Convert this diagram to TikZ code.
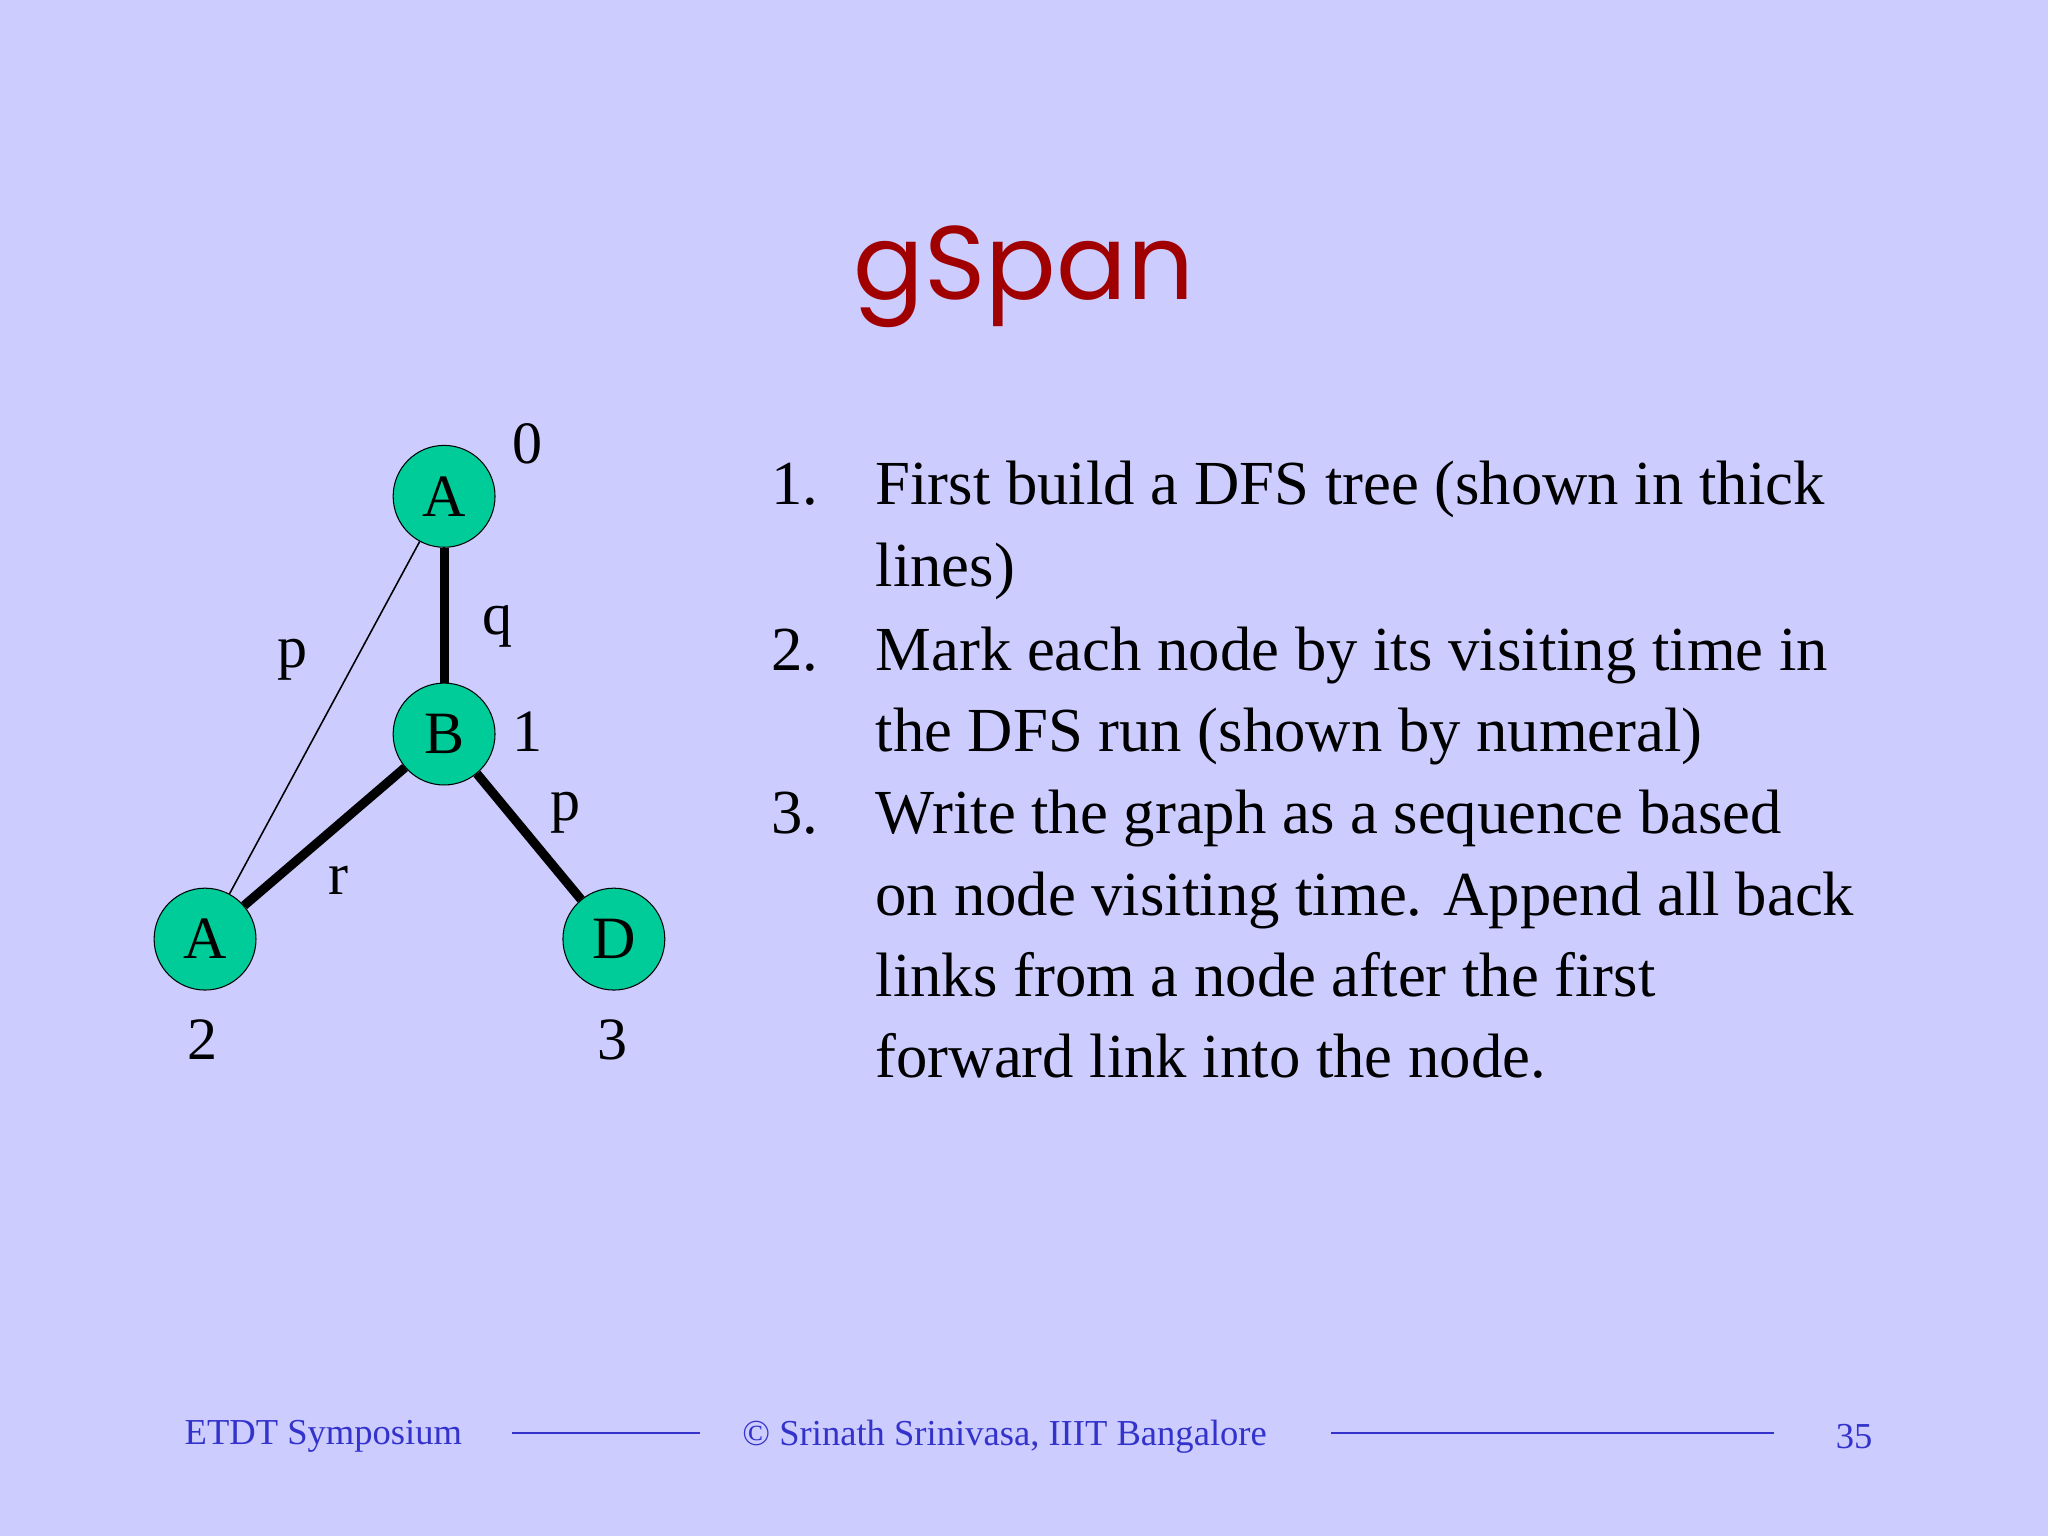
\documentclass[tikz,border=0pt]{standalone}
\usepackage{fontspec}
\setmainfont{Liberation Serif}
\newfontfamily\titlefont{Poppins}
\definecolor{bg}{RGB}{204,204,255}
\definecolor{nodegreen}{RGB}{0,204,153}
\definecolor{titlered}{RGB}{160,0,0}
\definecolor{footblue}{RGB}{51,51,204}
\tikzset{
  gnode/.style={circle,draw=black,fill=nodegreen,minimum size=39pt,inner sep=0pt,font=\fontsize{23}{23}\selectfont},
  lbl/.style={font=\fontsize{23}{23}\selectfont,inner sep=0pt},
  item/.style={anchor=base west,font=\fontsize{24}{24}\selectfont,inner sep=0pt},
  foot/.style={font=\fontsize{14}{14}\selectfont,text=footblue,inner sep=0pt},
  tree/.style={line width=3.5pt},
}
\begin{document}
\begin{tikzpicture}[x=0.5pt,y=-0.5pt]
\fill[bg] (0,0) rectangle (1568,1176);
\useasboundingbox (0,0) rectangle (1568,1176);
\node[text=titlered,font=\titlefont\fontsize{40}{40}\selectfont] (title) at (784,212) {gSpan};
\node[gnode] (a0) at (340,380) {A};
\node[gnode] (b) at (340,562) {B};
\node[gnode] (a2) at (157,719) {A};
\node[gnode] (d) at (470,719) {D};
\draw[tree] (a0) -- (b);
\draw[tree] (b) -- (a2);
\draw[tree] (b) -- (d);
\draw[line width=0.6pt] (a0) -- (a2);
\node[lbl] (n0) at (404,340) {0};
\node[lbl] (n1) at (404,560) {1};
\node[lbl] (n2) at (155,796) {2};
\node[lbl] (n3) at (469,796) {3};
\node[lbl] (lq) at (381,480) {q};
\node[lbl] (lp1) at (224,505) {p};
\node[lbl] (lp2) at (433,622) {p};
\node[lbl] (lr) at (259,674) {r};
\node[item] (i1) at (590,386) {1.};
\node[item] (i2) at (590,513) {2.};
\node[item] (i3) at (590,638) {3.};
\node[item] (t1) at (670,386) {First build a DFS tree (shown in thick};
\node[item] (t2) at (670,449) {lines)};
\node[item] (t3) at (670,513) {Mark each node by its visiting time in};
\node[item] (t4) at (670,575) {the DFS run (shown by numeral)};
\node[item] (t5) at (670,638) {Write the graph as a sequence based};
\node[item] (t6) at (670,701) {on node visiting time. Append all back};
\node[item] (t7) at (670,763) {links from a node after the first};
\node[item] (t8) at (670,825) {forward link into the node.};
\node[foot,anchor=west] (f1) at (141,1100) {ETDT Symposium};
\node[foot,anchor=west] (f2) at (568,1100) {© Srinath Srinivasa, IIIT Bangalore};
\node[foot,anchor=east] (f3) at (1434,1100) {35};
\coordinate (l1a) at (392,1097); \coordinate (l1b) at (536,1097);
\coordinate (l2a) at (1019,1097); \coordinate (l2b) at (1358,1097);
\draw[footblue,line width=0.8pt] (l1a) -- (l1b);
\draw[footblue,line width=0.8pt] (l2a) -- (l2b);
\end{tikzpicture}
\end{document}
